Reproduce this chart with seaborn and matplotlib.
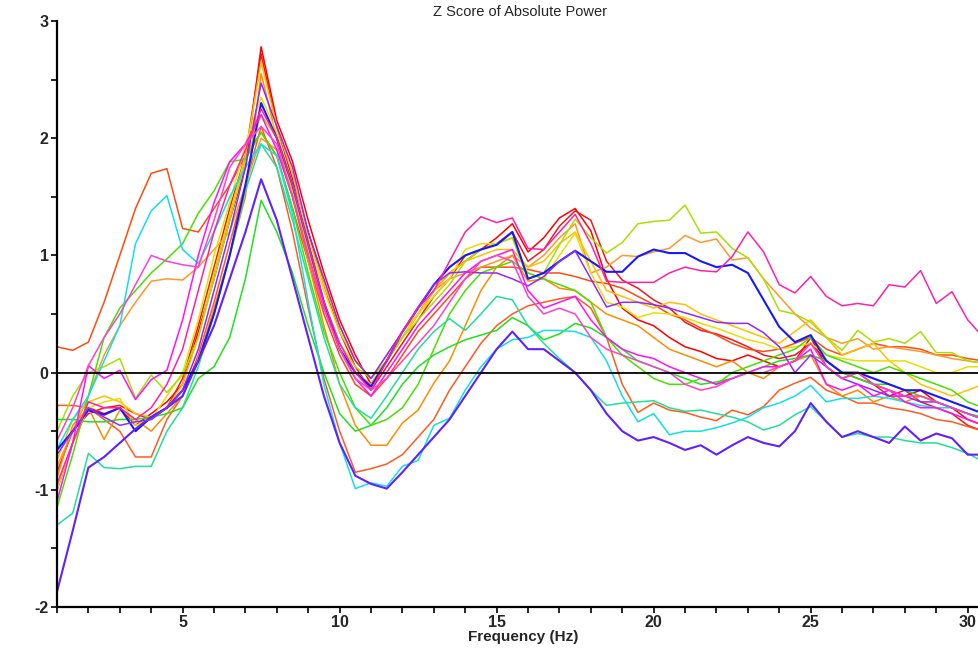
import numpy as np
import pandas as pd
import seaborn as sns
import matplotlib
matplotlib.use("Agg")
import matplotlib.pyplot as plt
from matplotlib.ticker import MultipleLocator

# frequencies (Hz), 0.5 Hz bins
freqs = [1.0, 1.5, 2.0, 2.5, 3.0, 3.5, 4.0, 4.5, 5.0, 5.5,
         6.0, 6.5, 7.0, 7.5, 8.0, 8.5, 9.0, 9.5, 10.0, 10.5,
         11.0, 11.5, 12.0, 12.5, 13.0, 13.5, 14.0, 14.5, 15.0, 15.5,
         16.0, 16.5, 17.0, 17.5, 18.0, 18.5, 19.0, 19.5, 20.0, 20.5,
         21.0, 21.5, 22.0, 22.5, 23.0, 23.5, 24.0, 24.5, 25.0, 25.5,
         26.0, 26.5, 27.0, 27.5, 28.0, 28.5, 29.0, 29.5, 30.0, 30.5]

# z scores per channel
red_a = [-1.0, -0.6, -0.3, -0.35, -0.3, -0.45, -0.35, -0.25, -0.1, 0.35,
         0.8, 1.3, 1.75, 2.78, 2.15, 1.8, 1.3, 0.85, 0.45, 0.15,
         -0.1, 0.1, 0.3, 0.5, 0.7, 0.85, 0.95, 1.05, 1.15, 1.27,
         1.03, 1.15, 1.32, 1.4, 1.21, 0.8, 0.55, 0.45, 0.4, 0.3,
         0.22, 0.18, 0.12, 0.1, 0.15, 0.1, 0.05, 0.1, 0.3, 0.05,
         -0.05, 0.0, -0.1, -0.15, -0.2, -0.15, -0.25, -0.3, -0.4, -0.45]
red_b = [-0.85, -0.5, -0.35, -0.3, -0.28, -0.35, -0.4, -0.3, -0.05, 0.4,
         0.9, 1.4, 1.85, 2.72, 2.1, 1.65, 1.2, 0.75, 0.35, 0.05,
         -0.15, 0.05, 0.25, 0.45, 0.65, 0.8, 1.0, 1.05, 1.1, 1.2,
         0.95, 1.05, 1.25, 1.38, 1.3, 0.95, 0.79, 0.72, 0.62, 0.55,
         0.43, 0.36, 0.33, 0.28, 0.22, 0.15, 0.12, 0.15, 0.25, 0.1,
         0.0, -0.05, -0.1, -0.2, -0.15, -0.25, -0.3, -0.35, -0.45, -0.5]
orred_a = [0.22, 0.19, 0.26, 0.6, 1.0, 1.4, 1.7, 1.74, 1.23, 1.2,
           1.4, 1.6, 1.85, 2.05, 1.85, 1.4, 0.95, 0.5, 0.15, -0.1,
           -0.2, -0.05, 0.15, 0.35, 0.5, 0.65, 0.8, 0.9, 0.9, 0.9,
           0.88, 0.85, 0.85, 0.82, 0.78, 0.76, 0.72, 0.65, 0.58, 0.5,
           0.45, 0.38, 0.32, 0.25, 0.2, 0.18, 0.2, 0.25, 0.3, 0.2,
           0.15, 0.2, 0.25, 0.22, 0.22, 0.2, 0.15, 0.15, 0.12, 0.1]
orred_b = [-0.28, -0.28, -0.3, -0.4, -0.5, -0.72, -0.72, -0.4, -0.2, 0.15,
           0.6, 1.1, 1.6, 2.1, 1.75, 1.2, 0.55, -0.05, -0.5, -0.85,
           -0.82, -0.78, -0.7, -0.55, -0.4, -0.15, 0.05, 0.25, 0.4, 0.5,
           0.57, 0.6, 0.63, 0.65, 0.55, 0.3, -0.1, -0.34, -0.26, -0.32,
           -0.34, -0.38, -0.41, -0.32, -0.36, -0.29, -0.15, -0.09, -0.04, -0.15,
           -0.2, -0.26, -0.26, -0.3, -0.32, -0.35, -0.4, -0.42, -0.46, -0.5]
orange_a = [-0.8, -0.5, -0.2, 0.15, 0.4, 0.6, 0.78, 0.8, 0.79, 0.9,
            1.05, 1.2, 1.6, 2.0, 1.9, 1.5, 1.0, 0.6, 0.25, 0.0,
            -0.1, 0.1, 0.3, 0.5, 0.7, 0.8, 0.85, 0.9, 0.95, 1.0,
            0.9, 1.0, 1.15, 1.27, 0.85, 0.9, 1.0, 0.99, 1.03, 1.06,
            1.17, 1.11, 1.14, 0.96, 0.98, 0.8, 0.65, 0.5, 0.38, 0.3,
            0.25, 0.29, 0.2, 0.22, 0.2, 0.18, 0.15, 0.12, 0.1, 0.08]
orange_b = [-0.9, -0.45, -0.3, -0.57, -0.32, -0.4, -0.5, -0.35, -0.2, 0.1,
            0.55, 1.0, 1.5, 2.55, 2.0, 1.5, 0.95, 0.4, -0.1, -0.45,
            -0.62, -0.62, -0.43, -0.32, -0.09, 0.1, 0.4, 0.7, 0.9, 1.0,
            0.78, 0.8, 0.72, 0.7, 0.6, 0.5, 0.45, 0.4, 0.3, 0.2,
            0.15, 0.1, 0.05, 0.1, 0.0, -0.05, 0.05, 0.1, 0.15, -0.1,
            -0.2, -0.15, -0.25, -0.2, -0.25, -0.2, -0.25, -0.3, -0.35, -0.4]
gold = [-0.75, -0.4, -0.25, -0.2, -0.25, -0.35, -0.38, -0.3, -0.1, 0.3,
        0.85, 1.35, 1.85, 2.65, 2.1, 1.7, 1.15, 0.75, 0.4, 0.1,
        -0.05, 0.15, 0.35, 0.5, 0.7, 0.85, 0.95, 1.0, 1.05, 1.05,
        0.9, 0.95, 1.1, 1.2, 0.95, 0.7, 0.65, 0.6, 0.55, 0.6,
        0.58, 0.5, 0.45, 0.4, 0.35, 0.3, 0.25, 0.35, 0.45, 0.3,
        0.15, 0.2, 0.25, 0.1, 0.0, -0.1, -0.15, -0.2, -0.15, -0.1]
yellow = [-1.0, -0.6, -0.3, -0.25, -0.22, -0.45, -0.4, -0.2, 0.0, 0.45,
          1.0, 1.45, 1.95, 2.35, 2.05, 1.6, 1.1, 0.7, 0.35, 0.1,
          -0.05, 0.1, 0.3, 0.5, 0.65, 0.8, 1.05, 1.1, 1.1, 1.15,
          0.85, 0.8, 1.0, 1.19, 0.85, 0.6, 0.56, 0.47, 0.51, 0.5,
          0.47, 0.42, 0.38, 0.33, 0.28, 0.25, 0.2, 0.22, 0.25, 0.15,
          0.12, 0.1, 0.1, 0.1, 0.1, 0.05, 0.0, 0.0, 0.05, 0.05]
ygreen = [-0.5, -0.2, 0.0, 0.05, 0.12, -0.22, -0.02, -0.17, -0.02, 0.3,
          0.8, 1.3, 1.8, 2.2, 2.0, 1.55, 1.05, 0.6, 0.25, 0.05,
          -0.05, 0.1, 0.3, 0.45, 0.6, 0.75, 0.95, 1.05, 1.1, 1.15,
          0.8, 0.85, 1.09, 1.31, 1.15, 1.02, 1.11, 1.27, 1.29, 1.3,
          1.43, 1.19, 1.2, 1.06, 0.98, 0.8, 0.53, 0.5, 0.43, 0.3,
          0.19, 0.36, 0.26, 0.29, 0.25, 0.35, 0.17, 0.17, 0.1, 0.08]
green_a = [-0.4, -0.4, -0.42, -0.42, -0.4, -0.4, -0.38, -0.35, -0.3, -0.05,
           0.05, 0.3, 0.8, 1.47, 1.2, 0.85, 0.4, 0.0, -0.35, -0.5,
           -0.45, -0.3, -0.1, 0.05, 0.15, 0.22, 0.28, 0.32, 0.36, 0.47,
           0.4, 0.28, 0.33, 0.42, 0.38, 0.3, 0.2, 0.1, 0.05, 0.0,
           -0.05, -0.1, -0.08, -0.05, 0.0, 0.05, 0.1, 0.12, 0.15, 0.1,
           0.0, -0.05, -0.1, -0.1, -0.15, -0.2, -0.25, -0.3, -0.35, -0.38]
green_b = [-1.15, -0.7, -0.2, 0.3, 0.55, 0.7, 0.85, 0.97, 1.1, 1.36,
           1.55, 1.8, 1.82, 2.05, 1.85, 1.4, 0.85, 0.35, 0.0, -0.3,
           -0.45, -0.4, -0.3, -0.1, 0.2, 0.5, 0.7, 0.85, 0.9, 0.95,
           0.85, 0.8, 0.75, 0.7, 0.6, 0.3, 0.15, 0.05, -0.05, -0.1,
           -0.1, -0.05, -0.1, 0.0, 0.05, 0.1, 0.15, 0.2, 0.3, 0.15,
           0.1, 0.05, 0.0, 0.05, 0.0, -0.05, -0.1, -0.15, -0.25, -0.3]
mint = [-1.3, -1.2, -0.69, -0.81, -0.82, -0.8, -0.8, -0.5, -0.3, 0.05,
        0.5, 1.0, 1.55, 1.95, 1.75, 1.3, 0.8, 0.3, -0.1, -0.3,
        -0.39, -0.2, 0.0, 0.2, 0.35, 0.46, 0.36, 0.5, 0.65, 0.62,
        0.4, 0.25, 0.12, 0.0, -0.15, -0.28, -0.26, -0.25, -0.24, -0.3,
        -0.33, -0.32, -0.35, -0.38, -0.42, -0.49, -0.45, -0.36, -0.29, -0.42,
        -0.55, -0.52, -0.55, -0.55, -0.58, -0.6, -0.6, -0.64, -0.69, -0.76]
cyan = [-0.65, -0.4, -0.2, 0.1, 0.4, 1.1, 1.38, 1.51, 1.05, 0.93,
        1.2, 1.5, 1.75, 1.95, 1.85, 1.35, 0.6, -0.1, -0.6, -0.99,
        -0.94, -0.97, -0.8, -0.75, -0.45, -0.39, -0.15, 0.05, 0.2, 0.28,
        0.3, 0.36, 0.36, 0.35, 0.3, 0.1, -0.2, -0.42, -0.35, -0.53,
        -0.5, -0.5, -0.47, -0.43, -0.38, -0.3, -0.26, -0.2, -0.11, -0.25,
        -0.22, -0.22, -0.2, -0.22, -0.25, -0.28, -0.3, -0.3, -0.35, -0.4]
blue = [-0.66, -0.5, -0.32, -0.36, -0.3, -0.5, -0.38, -0.3, -0.15, 0.1,
        0.5, 1.0, 1.6, 2.3, 2.0, 1.6, 1.1, 0.6, 0.2, 0.0,
        -0.12, 0.1, 0.35, 0.55, 0.75, 0.9, 1.0, 1.05, 1.09, 1.2,
        0.8, 0.85, 0.95, 1.04, 0.95, 0.86, 0.86, 0.99, 1.05, 1.02,
        1.02, 0.95, 0.9, 0.92, 0.85, 0.62, 0.39, 0.26, 0.32, 0.1,
        0.0, 0.0, -0.05, -0.1, -0.15, -0.15, -0.2, -0.25, -0.3, -0.35]
violet = [-1.87, -1.35, -0.81, -0.72, -0.6, -0.48, -0.38, -0.3, -0.2, 0.1,
          0.4, 0.8, 1.2, 1.65, 1.3, 0.8, 0.3, -0.2, -0.6, -0.88,
          -0.95, -0.99, -0.85, -0.7, -0.55, -0.4, -0.2, 0.0, 0.2, 0.35,
          0.2, 0.2, 0.1, 0.0, -0.15, -0.35, -0.5, -0.58, -0.55, -0.6,
          -0.66, -0.62, -0.7, -0.62, -0.55, -0.6, -0.63, -0.5, -0.26, -0.42,
          -0.55, -0.5, -0.55, -0.6, -0.46, -0.58, -0.52, -0.56, -0.7, -0.7]
purple = [-0.7, -0.5, -0.3, -0.38, -0.45, -0.42, -0.4, -0.3, -0.15, 0.2,
          0.7, 1.2, 1.75, 2.47, 2.1, 1.75, 1.2, 0.8, 0.4, 0.1,
          -0.05, 0.15, 0.35, 0.56, 0.75, 0.85, 0.86, 0.85, 0.85, 0.8,
          0.74, 0.82, 0.95, 1.04, 0.8, 0.56, 0.6, 0.6, 0.58, 0.55,
          0.51, 0.47, 0.43, 0.42, 0.42, 0.34, 0.22, 0.0, 0.15, 0.05,
          -0.05, -0.1, -0.15, -0.2, -0.2, -0.25, -0.25, -0.3, -0.35, -0.4]
magenta = [-1.1, -0.6, 0.06, -0.05, 0.02, -0.23, -0.06, 0.02, 0.45, 1.0,
           1.45, 1.8, 1.95, 2.2, 1.9, 1.5, 1.0, 0.55, 0.2, -0.05,
           -0.2, 0.0, 0.2, 0.4, 0.55, 0.7, 0.85, 0.95, 1.0, 1.05,
           0.7, 0.55, 0.6, 0.65, 0.45, 0.3, 0.2, 0.15, 0.12, 0.05,
           0.0, -0.05, -0.1, -0.05, 0.0, 0.05, 0.05, 0.1, 0.2, -0.1,
           -0.15, -0.1, -0.2, -0.15, -0.25, -0.3, -0.3, -0.35, -0.4, -0.45]
pink = [-0.95, -0.6, -0.25, -0.3, -0.3, -0.4, -0.3, -0.1, 0.2, 0.7,
        1.2, 1.6, 1.9, 2.25, 2.0, 1.6, 1.1, 0.6, 0.25, 0.0,
        -0.15, 0.1, 0.35, 0.55, 0.7, 0.95, 1.2, 1.33, 1.28, 1.32,
        1.06, 1.05, 1.2, 1.35, 1.1, 0.78, 0.77, 0.77, 0.77, 0.85,
        0.9, 0.87, 0.86, 0.99, 1.2, 1.03, 0.75, 0.68, 0.82, 0.65,
        0.57, 0.59, 0.57, 0.75, 0.73, 0.87, 0.59, 0.69, 0.45, 0.3]
pink2 = [-0.58, -0.3, 0.06, 0.3, 0.5, 0.75, 1.0, 0.95, 0.92, 0.9,
         1.3, 1.75, 1.95, 2.1, 1.95, 1.5, 1.0, 0.55, 0.2, -0.05,
         -0.15, -0.05, 0.1, 0.25, 0.4, 0.6, 0.8, 0.95, 1.0, 0.95,
         0.65, 0.5, 0.55, 0.5, 0.3, 0.2, 0.15, 0.1, 0.05, 0.0,
         -0.1, -0.15, -0.12, -0.05, 0.0, 0.0, 0.05, 0.1, 0.25, 0.05,
         -0.05, 0.0, -0.1, -0.15, -0.2, -0.2, -0.25, -0.3, -0.35, -0.4]

channels = {
    "red_a": (red_a, "#ff0000"), "red_b": (red_b, "#f01818"),
    "orred_a": (orred_a, "#ff4a10"), "orred_b": (orred_b, "#ff5a20"),
    "orange_a": (orange_a, "#ff9828"), "orange_b": (orange_b, "#ff8c00"),
    "gold": (gold, "#ffc000"), "yellow": (yellow, "#e6e000"),
    "ygreen": (ygreen, "#a8e000"), "green_a": (green_a, "#20e020"),
    "green_b": (green_b, "#48e000"), "mint": (mint, "#20e098"),
    "cyan": (cyan, "#10e0e8"), "blue": (blue, "#1818ff"),
    "violet": (violet, "#6020ff"), "purple": (purple, "#9028ff"),
    "magenta": (magenta, "#ff10ff"), "pink": (pink, "#ff20a8"),
    "pink2": (pink2, "#ff40c8"),
}

rows = []
for name, (vals, col) in channels.items():
    for f, v in zip(freqs, vals):
        rows.append((name, f, v))
df = pd.DataFrame(rows, columns=["channel", "freq", "z"])
palette = {k: c for k, (v, c) in channels.items()}

sns.set_style("white")
plt.rcParams["font.family"] = ["Liberation Sans", "DejaVu Sans"]
plt.rcParams["axes.unicode_minus"] = False

fig = plt.figure(figsize=(9.79, 6.48), dpi=100)
ax = fig.add_axes([57 / 979, 41 / 648, 922 / 979, 586 / 648])

sns.lineplot(data=df, x="freq", y="z", hue="channel", palette=palette,
             estimator=None, legend=False, linewidth=1.1, ax=ax)
for ln in ax.get_lines():
    if ln.get_color() in ("#1818ff", "#6020ff"):
        ln.set_linewidth(1.5)

ax.axhline(0, color="black", lw=1.3, zorder=5)

ax.set_xlim(1, 30.36)
ax.set_ylim(-2, 3)
ax.xaxis.set_major_locator(MultipleLocator(5))
ax.xaxis.set_minor_locator(MultipleLocator(1))
ax.yaxis.set_major_locator(MultipleLocator(1))
ax.yaxis.set_minor_locator(MultipleLocator(0.5))
ax.tick_params(which="both", direction="out", length=4, width=1.2, color="black",
               bottom=True, left=True, labelsize=11.5, pad=2)
for lab in ax.get_xticklabels() + ax.get_yticklabels():
    lab.set_fontweight("bold")
ax.set_xlabel("")
ax.set_ylabel("")
sns.despine(ax=ax, top=True, right=True)
ax.spines["left"].set_linewidth(1.6)
ax.spines["bottom"].set_linewidth(1.6)
ax.spines["left"].set_color("black")
ax.spines["bottom"].set_color("black")

fig.text(520 / 979, 1 - 12 / 648, "Z Score of Absolute Power", ha="center", va="center",
         fontsize=10.5)
fig.text(523 / 979, 1 - 637 / 648, "Frequency (Hz)", ha="center", va="center",
         fontsize=11, fontweight="bold")

fig.savefig("out.png", dpi=100, facecolor="white")
